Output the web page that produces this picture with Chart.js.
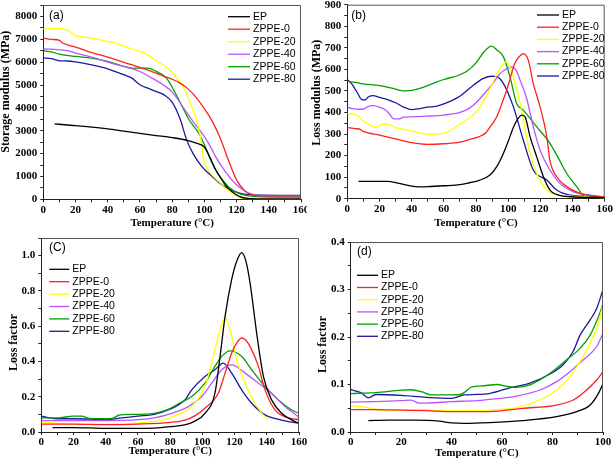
<!DOCTYPE html>
<html lang="en">
<head>
<meta charset="UTF-8">
<title>DMA curves of EP and ZPPE composites</title>
<script src="https://cdn.jsdelivr.net/npm/chart.js"></script>
<style>
    body { margin: 0; background: #fff; }
    #wrap { position: relative; width: 614px; height: 464px; }
    #wrap canvas { position: absolute; }
</style>
</head>
<body>
<div id="wrap">
    <canvas id="chartA" width="307" height="232" style="left:0;top:0"></canvas>
    <canvas id="chartB" width="307" height="232" style="left:307px;top:0"></canvas>
    <canvas id="chartC" width="307" height="232" style="left:0;top:232px"></canvas>
    <canvas id="chartD" width="307" height="232" style="left:307px;top:232px"></canvas>
</div>
<script>
// series names and colours (same order in every panel)
const seriesNames = ['EP', 'ZPPE-0', 'ZPPE-20', 'ZPPE-40', 'ZPPE-60', 'ZPPE-80'];
const seriesColors = ['#000000', '#ff2020', '#ffff00', '#b955ff', '#00a000', '#1a1aa0'];

// (a) storage modulus, [temperature, MPa]
const storageEP = [[7,3300],[15,3250],[20,3220],[30,3160],[40,3080],[50,2980],[60,2880],[70,2790],[80,2700],[90,2570],[95,2460],[100,2290],[103,1900],[107,1290],[110,950],[113,630],[117,340],[122,120],[127,40],[135,20],[160,20]];
const storageZ0 = [[0,7050],[5,7000],[10,6950],[12,6840],[15,6760],[20,6660],[30,6420],[40,6220],[50,5990],[60,5770],[70,5520],[75,5380],[80,5250],[85,5080],[90,4820],[95,4450],[100,3960],[105,3400],[110,2650],[115,1700],[120,850],[125,380],[130,190],[135,160],[140,150],[160,150]];
const storageZ20 = [[0,7450],[5,7470],[10,7480],[15,7400],[18,7270],[20,7160],[25,7100],[30,7050],[40,6900],[45,6830],[50,6690],[60,6470],[65,6320],[70,6070],[75,5850],[80,5560],[84,5200],[88,4780],[91,4250],[94.5,3620],[97.5,2750],[99.5,1800],[101,1450],[105,1050],[110,700],[113,480],[119,190],[123,50],[127,15],[160,10]];
const storageZ40 = [[0,6580],[10,6540],[15,6500],[20,6400],[30,6220],[40,6000],[50,5810],[60,5590],[70,5200],[75,4980],[80,4700],[88,3900],[93,3400],[98.5,2890],[103,2400],[107,1870],[113,1210],[119,700],[125.5,340],[130,220],[134,150],[160,150]];
const storageZ60 = [[0,6500],[5,6450],[10,6350],[20,6250],[30,6180],[40,6030],[50,5810],[55,5740],[65,5740],[70,5600],[75,5400],[78,5150],[82,4650],[86,4100],[90.5,3480],[96.5,2890],[100,2400],[103,1870],[106,1420],[109,1070],[115,555],[121,265],[127.5,146],[135,110],[160,100]];
const storageZ80 = [[0,6180],[5,6150],[10,6060],[15,6050],[20,6010],[30,5880],[40,5710],[50,5450],[55,5300],[60,5010],[65,4860],[70,4720],[75,4570],[80,4250],[85,3500],[89,2600],[93,2000],[98.5,1430],[105,990],[111,630],[119,340],[127,200],[135,180],[160,170]];

// (b) loss modulus, [temperature, MPa]
const lossEP = [[7,80],[15,80],[25,80],[30,75],[35,66],[40,58],[45,55],[50,56],[60,60],[70,65],[76,74],[82,85],[88.7,110],[93,150],[97,210],[100,265],[103.2,330],[106,370],[108.4,388],[110.5,380],[113.6,288],[117.7,195],[121.9,102],[126,40],[130,20],[138,9],[160,5]];
const lossZ0 = [[0,330],[5,325],[8,322],[10,312],[20,295],[30,278],[40,260],[50,252],[60,255],[70,262],[76,275],[82,288],[86,305],[89,335],[92.9,380],[96,440],[99.1,504],[104.2,628],[107,660],[109.5,673],[112.5,643],[115.6,535],[119.8,427],[124,288],[126,175],[130.2,102],[136.4,56],[144.7,25],[150,15],[160,8]];
const lossZ20 = [[0,395],[5,390],[8,375],[10,360],[15,338],[18,332],[22,345],[25,346],[30,330],[40,315],[50,300],[55,300],[60,303],[65,320],[70,345],[76,375],[81,410],[86.6,480],[92.9,575],[96,615],[99.1,636],[101,610],[103.2,566],[107.4,442],[109.4,365],[113.6,210],[117.7,117],[124,40],[132,17],[145,10],[160,5]];
const lossZ40 = [[0,425],[3,418],[8,415],[10,416],[13,428],[16,432],[20,425],[24,410],[26,395],[29,370],[32,370],[35,378],[40,380],[50,383],[60,388],[70,400],[76,420],[80,445],[86.6,500],[90,530],[95,580],[99,603],[102.2,612],[105,595],[107.4,550],[111.5,465],[115.6,334],[119.8,226],[126,133],[132.2,71],[140.5,32],[150.9,17],[160,8]];
const lossZ60 = [[0,545],[5,540],[10,533],[20,525],[25,518],[30,508],[35,500],[40,503],[45,512],[50,525],[55,540],[60,553],[70,575],[75,595],[80,630],[85,682],[89.7,708],[93,690],[97,659],[101.1,566],[105.3,442],[109.4,411],[117.7,334],[126,257],[130.2,202],[136.4,117],[142.6,56],[147.8,9],[160,5]];
const lossZ80 = [[0,553],[3,530],[6,495],[9,460],[11,458],[13,472],[16,478],[20,470],[25,460],[30,445],[35,425],[40,413],[45,418],[50,425],[55,428],[60,440],[65,455],[70,475],[76,512],[84.6,558],[90,568],[92.9,566],[97,535],[103.2,427],[109.4,272],[115.6,133],[124,87],[130.2,40],[138.4,17],[160,8]];

// (C) loss factor, full range
const tanEP = [[7,0.025],[20,0.025],[30,0.023],[40,0.02],[50,0.02],[60,0.02],[70,0.022],[80,0.03],[89,0.04],[95,0.06],[101.6,0.106],[107.8,0.22],[111,0.429],[114.1,0.656],[118.2,0.865],[121,0.96],[124.4,1.017],[127,0.97],[129.6,0.846],[133.7,0.562],[137.9,0.315],[143,0.182],[149.2,0.106],[157.5,0.059],[160,0.05]];
const tanZ0 = [[0,0.045],[20,0.045],[40,0.042],[60,0.045],[80,0.055],[89.2,0.068],[95,0.09],[101.6,0.135],[109.9,0.22],[114.1,0.334],[118.2,0.448],[121,0.5],[124.4,0.533],[127,0.52],[130.6,0.467],[134.8,0.372],[138.9,0.239],[145.1,0.125],[153.4,0.08],[160,0.07]];
const tanZ20 = [[0,0.055],[10,0.05],[20,0.045],[40,0.045],[60,0.05],[70,0.06],[78,0.075],[85.1,0.1],[93.4,0.144],[101.6,0.258],[105.8,0.391],[109.9,0.543],[114.1,0.647],[118.2,0.543],[121.3,0.41],[126.5,0.277],[132.7,0.163],[139.9,0.078],[141,0.075]];
const tanZ40 = [[0,0.065],[20,0.065],[40,0.065],[60,0.07],[70,0.08],[81,0.106],[91.3,0.144],[99.6,0.201],[105.8,0.277],[112,0.353],[118.2,0.381],[126.5,0.334],[134.8,0.277],[143,0.22],[151.3,0.144],[160,0.085]];
const tanZ60 = [[0,0.08],[10,0.08],[20,0.09],[25,0.09],[30,0.077],[40,0.075],[45,0.08],[48,0.095],[55,0.1],[60,0.1],[70,0.105],[78,0.125],[85.1,0.16],[93.4,0.201],[101.6,0.277],[107.8,0.372],[112,0.429],[117.2,0.46],[124.4,0.429],[130.6,0.353],[138.9,0.258],[147.2,0.182],[155.5,0.125],[160,0.106]];
const tanZ80 = [[0,0.09],[5,0.08],[10,0.075],[20,0.075],[30,0.073],[40,0.07],[50,0.08],[60,0.09],[70,0.1],[80,0.13],[85.1,0.154],[89.2,0.182],[93.4,0.239],[101.6,0.315],[107.8,0.353],[113,0.391],[118.2,0.334],[124.4,0.239],[130.6,0.163],[138.9,0.097],[149.2,0.068],[160,0.049]];

// (d) loss factor, 0-100 °C
const tanLowEP = [[7,0.024],[15,0.025],[25,0.025],[35,0.023],[40,0.019],[45,0.018],[55,0.0196],[68,0.0238],[81.6,0.0322],[89.6,0.0428],[94.9,0.0568],[98.2,0.0814],[100,0.102]];
const tanLowZ0 = [[0,0.047],[10,0.047],[20,0.046],[30,0.045],[40,0.043],[50,0.043],[55,0.043],[68,0.0498],[81.6,0.0568],[88.2,0.0673],[93.5,0.0884],[97.5,0.1095],[100,0.127]];
const tanLowZ20 = [[0,0.055],[5,0.053],[10,0.048],[15,0.044],[20,0.047],[30,0.046],[40,0.045],[50,0.045],[55,0.0463],[65.8,0.0512],[75,0.0673],[81.6,0.0884],[86.9,0.1165],[90.9,0.148],[94.9,0.187],[98.2,0.229],[100,0.27]];
const tanLowZ40 = [[0,0.063],[10,0.064],[20,0.066],[24,0.067],[27,0.061],[30,0.061],[40,0.064],[50,0.066],[55,0.0687],[65.8,0.0757],[75,0.0884],[81.6,0.106],[86.9,0.127],[92.2,0.152],[97.5,0.18],[100,0.208]];
const tanLowZ60 = [[0,0.081],[10,0.083],[20,0.088],[24,0.089],[28,0.085],[32,0.078],[40,0.078],[44,0.08],[48,0.095],[52,0.097],[58,0.1],[62,0.096],[65.8,0.094],[71,0.099],[79,0.1235],[85.6,0.152],[90.9,0.176],[94.9,0.204],[98,0.24],[100,0.27]];
const tanLowZ80 = [[0,0.089],[4,0.083],[7,0.072],[10,0.079],[20,0.077],[30,0.073],[40,0.071],[45,0.078],[50,0.079],[55,0.081],[63,0.093],[71,0.103],[79,0.122],[84.3,0.142],[88.2,0.17],[90.9,0.204],[94.9,0.236],[97.5,0.26],[100,0.3]];

const axisColor = '#222';
const serif = '"Liberation Serif", "Times New Roman", serif';
const sans = '"Liberation Sans", Arial, sans-serif';

// frame, panel tag and legend drawn inside the plot
const panelDecor = {
    id: 'panelDecor',
    afterDraw(chart, args, o) {
        const { ctx, chartArea: a } = chart;
        ctx.save();
        ctx.strokeStyle = '#555';
        ctx.lineWidth = 1;
        ctx.beginPath();
        ctx.moveTo(a.left, a.top + 0.5);
        ctx.lineTo(a.right - 0.5, a.top + 0.5);
        ctx.lineTo(a.right - 0.5, a.bottom);
        ctx.stroke();

        ctx.fillStyle = '#000';
        ctx.textBaseline = 'middle';
        ctx.font = '12px ' + sans;
        ctx.fillText(o.tag, o.tagX, o.tagY);

        ctx.font = '10.5px ' + sans;
        chart.data.datasets.forEach((ds, i) => {
            const y = o.legY + i * o.legDy;
            ctx.strokeStyle = ds.borderColor;
            ctx.lineWidth = 1.3;
            ctx.beginPath();
            ctx.moveTo(o.legX, y);
            ctx.lineTo(o.legX + o.legLen, y);
            ctx.stroke();
            ctx.fillText(ds.label, o.legX + o.legLen + 3, y);
        });
        ctx.restore();
    }
};

// the y titles sit a little off centre in the original; pad with no-break spaces
function shiftTitle(text, before, after) {
    return '\u00a0'.repeat(before) + text + '\u00a0'.repeat(after);
}

function makePanel(id, p) {
    const datasets = p.series.map((s, i) => ({
        label: seriesNames[i],
        data: s.map(pt => ({ x: pt[0], y: pt[1] })),
        borderColor: seriesColors[i],
        borderWidth: 1.3,
        pointRadius: 0,
        fill: false,
        cubicInterpolationMode: 'monotone'
    }));

    new Chart(document.getElementById(id), {
        type: 'line',
        data: { datasets },
        plugins: [panelDecor],
        options: {
            responsive: false,
            animation: false,
            layout: { padding: { left: 0, top: p.area.t, right: 307 - p.area.r, bottom: 0 } },
            scales: {
                x: {
                    type: 'linear',
                    min: 0, max: p.xMax,
                    afterFit: s => { s.height = 232 - p.area.b; s.paddingLeft = 0; s.paddingRight = 0; },
                    ticks: {
                        stepSize: 10, autoSkip: false, maxRotation: 0, padding: 1,
                        color: '#000',
                        font: { family: serif, size: 11, weight: 'bold' },
                        callback: v => (v % 20 === 0 ? v : '')
                    },
                    grid: { drawOnChartArea: false, tickLength: 3, color: axisColor },
                    border: { color: axisColor, width: 1 },
                    title: {
                        display: true, text: 'Temperature (°C)', color: '#000',
                        font: { family: serif, size: 11, weight: 'bold', lineHeight: 1 },
                        padding: { top: 0, bottom: p.xTitlePad }
                    }
                },
                y: {
                    min: 0, max: p.yMax,
                    afterFit: s => { s.width = p.area.l; s.paddingTop = 0; s.paddingBottom = 0; },
                    ticks: {
                        stepSize: p.yStep, autoSkip: false, padding: 3,
                        color: '#000',
                        font: { family: serif, size: 11, weight: 'bold' },
                        callback: v => {
                            const k = Math.round(v / p.yStep);
                            return k % 2 === 0 ? v.toFixed(p.yDigits) : '';
                        }
                    },
                    grid: { drawOnChartArea: false, tickLength: 3, color: axisColor },
                    border: { color: axisColor, width: 1 },
                    title: {
                        display: true, text: p.yTitle, color: '#000',
                        font: { family: serif, size: 12, weight: 'bold', lineHeight: 1 },
                        padding: { top: p.yTitlePad, bottom: 0 }
                    }
                }
            },
            plugins: {
                legend: { display: false },
                tooltip: { enabled: false },
                panelDecor: p.decor
            }
        }
    });
}

makePanel('chartA', {
    series: [storageEP, storageZ0, storageZ20, storageZ40, storageZ60, storageZ80],
    xMax: 160, yMax: 8500, yStep: 500, yDigits: 0,
    yTitle: shiftTitle('Storage modulus (MPa)', 7, 0),
    area: { l: 43.3, r: 301, t: 5, b: 199.3 },
    xTitlePad: 3, yTitlePad: 0,
    decor: { tag: '(a)', tagX: 49, tagY: 15.7, legX: 228, legY: 16.7, legDy: 12.5, legLen: 22 }
});

makePanel('chartB', {
    series: [lossEP, lossZ0, lossZ20, lossZ40, lossZ60, lossZ80],
    xMax: 160, yMax: 900, yStep: 50, yDigits: 0,
    yTitle: shiftTitle('Loss modulus (MPa)', 6, 0),
    area: { l: 40.3, r: 297.7, t: 4.7, b: 198.7 },
    xTitlePad: 3.5, yTitlePad: 4,
    decor: { tag: '(b)', tagX: 44.3, tagY: 15.7, legX: 230, legY: 15, legDy: 12.2, legLen: 22 }
});

makePanel('chartC', {
    series: [tanEP, tanZ0, tanZ20, tanZ40, tanZ60, tanZ80],
    xMax: 160, yMax: 1.1, yStep: 0.1, yDigits: 1,
    yTitle: shiftTitle('Loss factor', 0, 5),
    area: { l: 41.3, r: 299, t: 6, b: 200 },
    xTitlePad: 7, yTitlePad: 8,
    decor: { tag: '(C)', tagX: 49, tagY: 15.7, legX: 49.3, legY: 37.3, legDy: 12.4, legLen: 20 }
});

makePanel('chartD', {
    series: [tanLowEP, tanLowZ0, tanLowZ20, tanLowZ40, tanLowZ60, tanLowZ80],
    xMax: 100, yMax: 0.4, yStep: 0.05, yDigits: 1,
    yTitle: shiftTitle('Loss factor', 0, 5),
    area: { l: 43.7, r: 296, t: 10, b: 200 },
    xTitlePad: 5, yTitlePad: 10,
    decor: { tag: '(d)', tagX: 50, tagY: 19.3, legX: 50, legY: 43.3, legDy: 12.2, legLen: 21 }
});
</script>
</body>
</html>
